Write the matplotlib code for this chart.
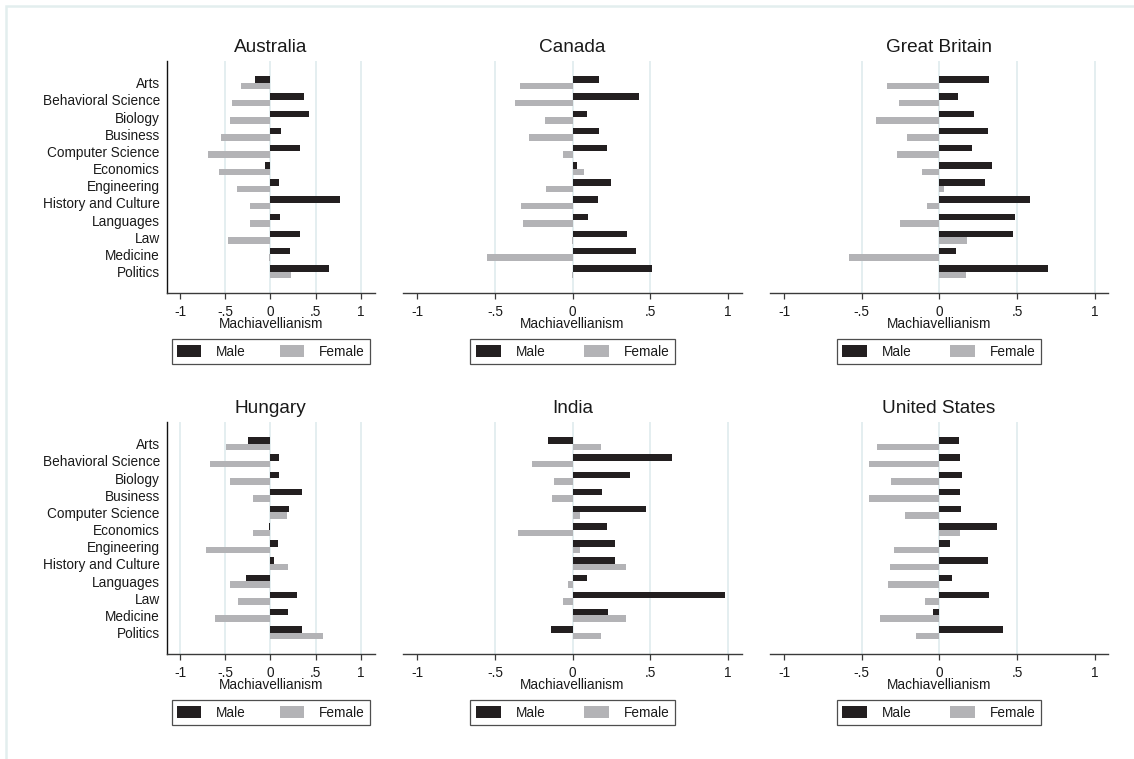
import matplotlib
matplotlib.use("Agg")
import matplotlib.pyplot as plt
from matplotlib.patches import Patch, Rectangle
import numpy as np

plt.rcParams["font.family"] = ["Liberation Sans", "DejaVu Sans"]

# Fields of study (top to bottom)
fields = ["Arts", "Behavioral Science", "Biology", "Business", "Computer Science",
          "Economics", "Engineering", "History and Culture", "Languages", "Law",
          "Medicine", "Politics"]

countries = ["Australia", "Canada", "Great Britain", "Hungary", "India", "United States"]

# Mean Machiavellianism by field, male / female
australia_male = [-0.17, 0.37, 0.43, 0.12, 0.33, -0.06, 0.10, 0.77, 0.11, 0.33, 0.22, 0.65]
australia_female = [-0.32, -0.42, -0.45, -0.55, -0.69, -0.57, -0.37, -0.22, -0.23, -0.47, -0.02, 0.23]

canada_male = [0.17, 0.43, 0.09, 0.17, 0.22, 0.03, 0.25, 0.16, 0.10, 0.35, 0.41, 0.51]
canada_female = [-0.34, -0.37, -0.18, -0.28, -0.06, 0.07, -0.17, -0.33, -0.32, -0.005, -0.55, -0.005]

gb_male = [0.32, 0.12, 0.22, 0.31, 0.21, 0.34, 0.29, 0.58, 0.485, 0.47, 0.105, 0.70]
gb_female = [-0.34, -0.26, -0.41, -0.21, -0.27, -0.11, 0.03, -0.08, -0.255, 0.18, -0.58, 0.17]

hungary_male = [-0.25, 0.10, 0.10, 0.35, 0.21, -0.02, 0.09, 0.04, -0.27, 0.30, 0.19, 0.35]
hungary_female = [-0.49, -0.67, -0.45, -0.19, 0.18, -0.19, -0.71, 0.19, -0.45, -0.36, -0.61, 0.58]

india_male = [-0.16, 0.64, 0.37, 0.19, 0.47, 0.22, 0.27, 0.27, 0.09, 0.98, 0.23, -0.14]
india_female = [0.18, -0.26, -0.12, -0.13, 0.05, -0.35, 0.05, 0.345, -0.03, -0.06, 0.345, 0.18]

us_male = [0.125, 0.13, 0.145, 0.13, 0.14, 0.37, 0.07, 0.31, 0.08, 0.32, -0.04, 0.41]
us_female = [-0.40, -0.455, -0.31, -0.455, -0.22, 0.13, -0.29, -0.32, -0.33, -0.09, -0.38, -0.15]

male_values = [australia_male, canada_male, gb_male, hungary_male, india_male, us_male]
female_values = [australia_female, canada_female, gb_female, hungary_female, india_female, us_female]

xticks = [-1, -0.5, 0, 0.5, 1]
xticklabels = ["-1", "-.5", "0", ".5", "1"]
series_labels = ["Male", "Female"]

MALE_COLOR = "#231f20"
FEMALE_COLOR = "#b3b3b6"
GRID_COLOR = "#dde9ec"
TEXT_COLOR = "#1a1a1a"
AXIS_COLOR = "#3a3a3a"

W, H = 1134, 759
fig = plt.figure(figsize=(W / 100, H / 100), dpi=100)
fig.patch.set_facecolor("white")

# light outer frame
fig.add_artist(Rectangle((6 / W, -0.1), 1.2, 1.1 - 6 / H, transform=fig.transFigure,
                         fill=False, edgecolor="#e3eeee", linewidth=1.8))

# panel geometry in pixels: (x0, x1) per column, (top, bottom) per row
cols = [(166.7, 375.0), (403.0, 742.0), (770.0, 1108.0)]
rows = [(61.0, 293.3), (422.0, 654.3)]
xlims = [(-1.147, 1.158), (-1.092, 1.090), (-1.090, 1.084)]
# legend spacing per column (narrow left panels pack tighter)
leg_colspacing = [2.5, 2.8, 2.8]
leg_handlelength = [1.75, 1.85, 1.85]
# gridlines drawn in each panel
grids = {
    "Australia": [-0.5, 0, 0.5, 1],
    "Canada": [-0.5, 0, 0.5],
    "Great Britain": [-0.5, 0, 0.5, 1],
    "Hungary": [-1, -0.5, 0, 0.5, 1],
    "India": [-0.5, 0, 0.5, 1],
    "United States": [-0.5, 0, 0.5],
}

y = np.arange(len(fields))
bar_h = 0.38
off = 0.19

for k, country in enumerate(countries):
    r, c = divmod(k, 3)
    x0, x1 = cols[c]
    top, bot = rows[r]
    ax = fig.add_axes([x0 / W, 1 - bot / H, (x1 - x0) / W, (bot - top) / H])
    ax.set_facecolor("white")

    for g in grids[country]:
        ax.axvline(g, color=GRID_COLOR, linewidth=1.1, zorder=0)

    ax.barh(y - off, male_values[k], height=bar_h, color=MALE_COLOR, zorder=2)
    ax.barh(y + off, female_values[k], height=bar_h, color=FEMALE_COLOR, zorder=2)

    ax.set_xlim(*xlims[c])
    ax.set_ylim(len(fields) - 1 + 1.27, -1.27)
    ax.set_xticks(xticks)
    ax.set_xticklabels(xticklabels)
    ax.tick_params(axis="x", direction="out", length=4, width=0.9, colors=AXIS_COLOR,
                   labelcolor=TEXT_COLOR, labelsize=9.8, pad=4.5)
    ax.set_yticks(y)
    if c == 0:
        ax.set_yticklabels(fields)
        ax.tick_params(axis="y", length=0, pad=5, labelsize=9.8, labelcolor=TEXT_COLOR)
        ax.spines["left"].set_color("#111111")
        ax.spines["left"].set_linewidth(1.0)
    else:
        ax.set_yticklabels([])
        ax.tick_params(axis="y", length=0)
        ax.spines["left"].set_visible(False)
    ax.spines["top"].set_visible(False)
    ax.spines["right"].set_visible(False)
    ax.spines["bottom"].set_color(AXIS_COLOR)
    ax.spines["bottom"].set_linewidth(1.0)

    ax.set_xlabel("Machiavellianism", fontsize=9.8, color=TEXT_COLOR, labelpad=-1.5)
    ax.set_title(country, fontsize=13.7, color=TEXT_COLOR, pad=6.5)

    handles = [Patch(facecolor=MALE_COLOR, edgecolor="none"),
               Patch(facecolor=FEMALE_COLOR, edgecolor="none")]
    leg = ax.legend(handles, series_labels, loc="upper center",
                    bbox_to_anchor=(0.5, -0.198), ncol=2, frameon=True, fancybox=False,
                    fontsize=9.8, handlelength=leg_handlelength[c], handleheight=0.9,
                    handletextpad=1.1, columnspacing=leg_colspacing[c], borderpad=0.4,
                    borderaxespad=0.0)
    leg.get_frame().set_edgecolor("#222222")
    leg.get_frame().set_linewidth(0.9)
    for t in leg.get_texts():
        t.set_color(TEXT_COLOR)

fig.savefig("out.png", dpi=100, facecolor="white")
